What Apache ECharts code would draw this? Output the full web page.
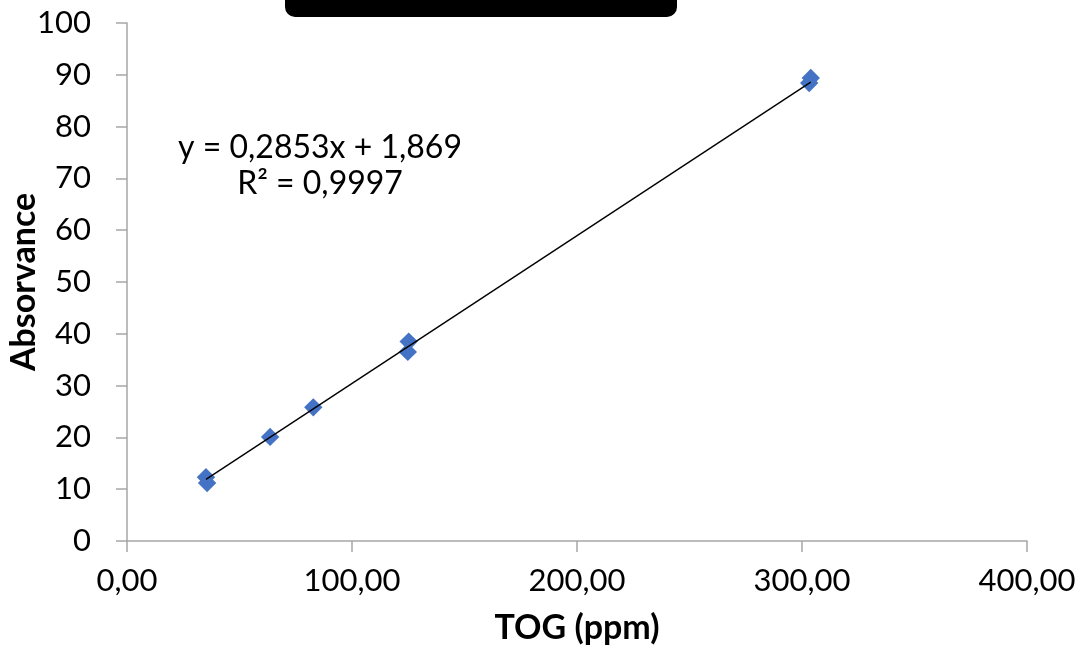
<!DOCTYPE html>
<html>
<head>
<meta charset="utf-8">
<script src="https://cdn.jsdelivr.net/npm/echarts@6/dist/echarts.min.js"></script>
<style>
  html, body { margin: 0; padding: 0; background: #fff; }
  #chart { width: 1084px; height: 655px; }
</style>
</head>
<body>
<div id="chart"></div>
<script>
// TOG (ppm) vs absorvance
var togValues = [35.1, 35.6, 63.6, 82.8, 124.8, 125.2, 303.2, 303.9];
var absValues = [12.3, 11.2, 20.1, 25.8, 36.5, 38.5, 88.4, 89.4];
var slope = 0.2853, intercept = 1.869;
var eqLabel = 'y = 0,2853x + 1,869';
var r2Label = 'R² = 0,9997';

window.onload = function() {
	var points = [];
	for(var i = 0; i < togValues.length; i++) {
		points.push([togValues[i], absValues[i]]);
	}
	var xMin = Math.min.apply(null, togValues),
		xMax = Math.max.apply(null, togValues);
	var trend = [[xMin, slope * xMin + intercept], [xMax, slope * xMax + intercept]]; //linha de tendencia

	var font = 'Lato, "Open Sans", sans-serif';
	var axisGrey = '#a6a6a6';

	var option = {
		animation: false,
		grid: { left: 127, right: 57, top: 23, bottom: 114, outerBoundsMode: 'none', containLabel: false },
		xAxis: {
			type: 'value', min: 0, max: 400, interval: 100,
			name: 'TOG (ppm)', nameLocation: 'middle', nameGap: 70, nameMoveOverlap: false,
			nameTextStyle: { fontFamily: font, fontSize: 34, fontWeight: 'bold', color: '#000' },
			axisLine: { show: true, lineStyle: { color: axisGrey, width: 1.5 } },
			axisTick: { show: true, length: 11, lineStyle: { color: axisGrey, width: 1.5 } },
			splitLine: { show: false },
			axisLabel: {
				margin: 24, fontFamily: font, fontSize: 31, color: '#000',
				alignMinLabel: 'center', alignMaxLabel: 'center',
				formatter: function(v) { return v.toFixed(2).replace('.', ','); }
			}
		},
		yAxis: {
			type: 'value', min: 0, max: 100, interval: 10,
			name: 'Absorvance', nameLocation: 'middle', nameGap: 86, nameRotate: 90, nameMoveOverlap: false,
			nameTextStyle: { fontFamily: font, fontSize: 34, fontWeight: 'bold', color: '#000' },
			axisLine: { show: true, lineStyle: { color: axisGrey, width: 1.5 } },
			axisTick: { show: true, length: 11, lineStyle: { color: axisGrey, width: 1.5 } },
			splitLine: { show: false },
			axisLabel: { margin: 36, fontFamily: font, fontSize: 31, color: '#000' }
		},
		series: [{
			type: 'line',
			data: trend,
			symbol: 'none',
			lineStyle: { color: '#000', width: 1.4 },
			z: 3
		}, {
			type: 'scatter',
			data: points,
			symbol: 'rect',
			symbolSize: 13,
			symbolRotate: 45,
			itemStyle: { color: '#4472c4', opacity: 1 },
			z: 2
		}],
		graphic: [{
			type: 'rect',
			shape: { x: 285, y: -10, width: 392, height: 27, r: 10 },
			style: { fill: '#000' }
		}, {
			type: 'text',
			x: 320, y: 148,
			style: {
				text: eqLabel, fontFamily: font, fontSize: 32, fill: '#000',
				align: 'center', verticalAlign: 'middle'
			}
		}, {
			type: 'text',
			x: 320, y: 184,
			style: {
				text: r2Label, fontFamily: font, fontSize: 32, fill: '#000',
				align: 'center', verticalAlign: 'middle'
			}
		}]
	};
	var chart = echarts.init(document.getElementById('chart'));
	chart.setOption(option);
};
</script>
</body>
</html>
